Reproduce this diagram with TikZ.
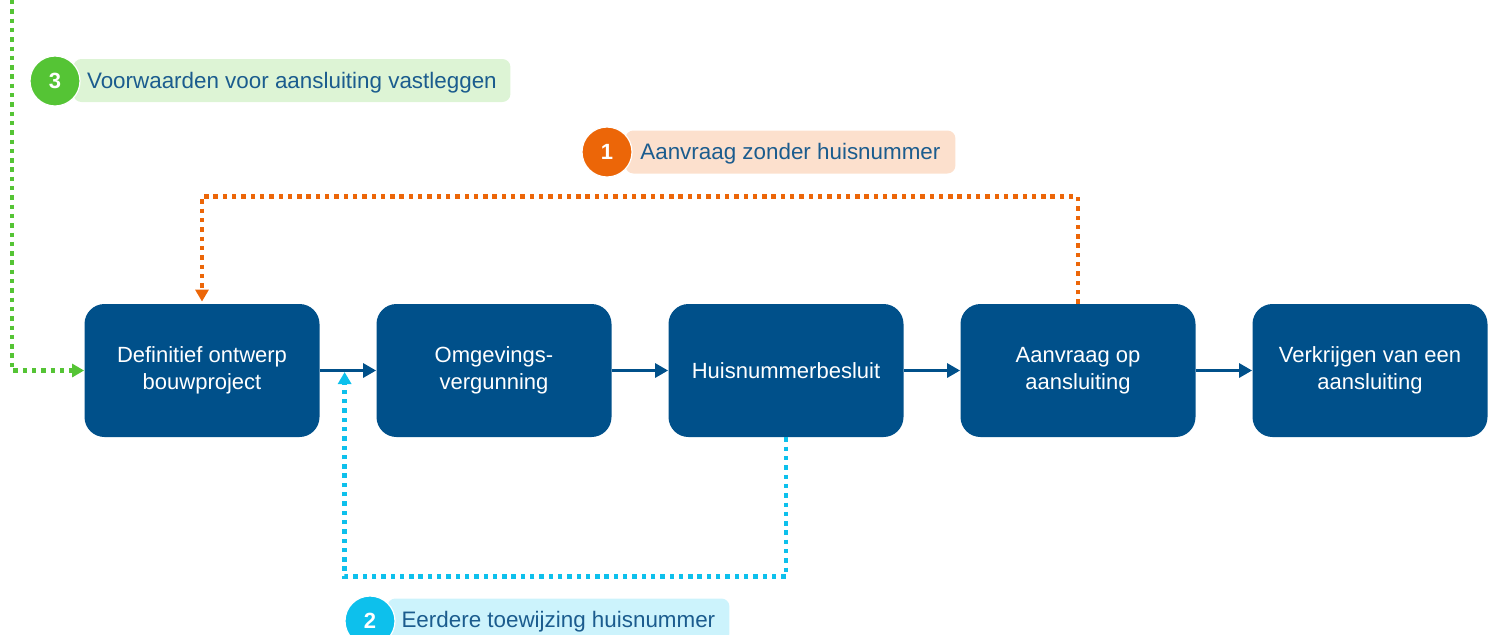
\documentclass[tikz,border=0pt]{standalone}
\usepackage{fontspec}
\setmainfont{Liberation Sans}
\usetikzlibrary{arrows.meta,positioning,calc}
\definecolor{boxblue}{HTML}{00508A}
\definecolor{textblue}{HTML}{1B5C8E}
\definecolor{stepgreen}{HTML}{55C435}
\definecolor{lightgreen}{HTML}{DDF4D5}
\definecolor{steporange}{HTML}{EC6608}
\definecolor{lightorange}{HTML}{FCE0CD}
\definecolor{stepcyan}{HTML}{0DC0EC}
\definecolor{lightcyan}{HTML}{CCF3FC}
\tikzstyle{block} = [
  rectangle, fill=boxblue, rounded corners=10pt, text=white, align=center,
  minimum width=117.5pt, minimum height=66.5pt, font=\fontsize{11}{13.5}\selectfont
]
\tikzstyle{flow} = [
  draw=boxblue, line width=1.5pt, -{Triangle[length=6.5pt,width=7pt]}
]
\tikzstyle{dotline} = [
  line width=2.2pt, dash pattern=on 2.2pt off 2.45pt,
  -{Triangle[length=6pt,width=6.5pt]}
]
\tikzstyle{tag} = [
  rectangle, rounded corners=4pt, text=textblue, anchor=west,
  minimum height=21.5pt, text height=10pt, text depth=2.2pt,
  font=\fontsize{11.2}{13.5}\selectfont
]
\tikzstyle{badge} = [
  circle, draw=white, line width=0.6pt, minimum size=25pt, inner sep=0pt,
  text=white, font=\bfseries\fontsize{11}{13}\selectfont
]

\begin{document}
\begin{tikzpicture}[x=0.5pt,y=-0.5pt]
    \useasboundingbox (0,0) rectangle (1493,634);
    \node[block] (ontwerp) at (202,370.5) {Definitief ontwerp\\bouwproject};
    \node[block, right=28.1pt of ontwerp] (vergunning) {Omgevings-\\vergunning};
    \node[block, right=28.1pt of vergunning] (besluit) {Huisnummerbesluit};
    \node[block, right=28.1pt of besluit] (aanvraag) {Aanvraag op\\aansluiting};
    \node[block, right=28.1pt of aanvraag] (verkrijgen) {Verkrijgen van een\\aansluiting};

    \draw[flow] (ontwerp) -- (vergunning);
    \draw[flow] (vergunning) -- (besluit);
    \draw[flow] (besluit) -- (aanvraag);
    \draw[flow] (aanvraag) -- (verkrijgen);

    % terugkoppelingen
    \coordinate (greentop) at (12,0);
    \coordinate (cyantip) at ($(ontwerp.east)!0.44!(vergunning.west)$);
    \draw[dotline, steporange, shorten >=1pt] (aanvraag.north) -- ++(0,-107) -| (ontwerp.north);
    \draw[dotline, stepcyan, shorten >=0.75pt] (besluit.south) -- ++(0,139) -| (cyantip);
    \draw[dotline, stepgreen] (greentop) |- (ontwerp.west);

    \node[tag, fill=lightgreen, minimum width=218.5pt] (voorwaarden) at (73,80.5) {Voorwaarden voor aansluiting vastleggen};
    \node[badge, fill=stepgreen] (nr3) at (55,81) {3};
    \node[tag, fill=lightorange, minimum width=165pt] (zonder) at (625,152) {Aanvraag zonder huisnummer};
    \node[badge, fill=steporange] (nr1) at (607,152) {1};
    \node[tag, fill=lightcyan, minimum width=171pt] (eerdere) at (387,620) {Eerdere toewijzing huisnummer};
    \node[badge, fill=stepcyan] (nr2) at (370,621) {2};
\end{tikzpicture}
\end{document}
